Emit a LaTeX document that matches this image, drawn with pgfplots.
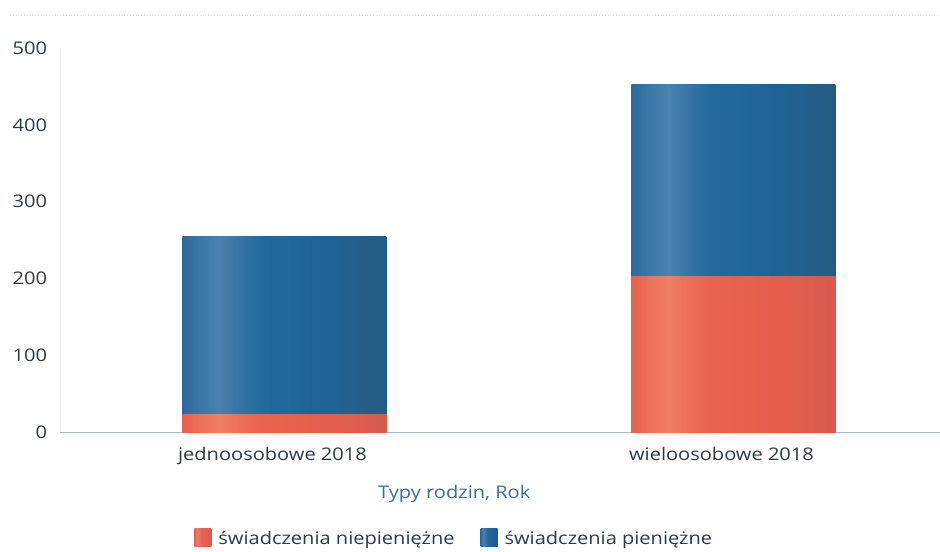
\documentclass[border=0pt]{standalone}
\usepackage{fontspec}
\setmainfont{Open Sans}[FakeStretch=1.15]
\usepackage{pgfplots}
\pgfplotsset{compat=1.18}
\definecolor{tickc}{HTML}{2F3B44}
\definecolor{labc}{HTML}{3D6CAA}
\definecolor{axc}{HTML}{A9BACB}
\definecolor{bA}{HTML}{2B6A9C}
\definecolor{bA2}{HTML}{3A76A6}
\definecolor{bB}{HTML}{4A82B0}
\definecolor{bB2}{HTML}{3574A5}
\definecolor{bC}{HTML}{23699C}
\definecolor{bD}{HTML}{1F6396}
\definecolor{bE}{HTML}{265C82}
\definecolor{rA}{HTML}{E8604C}
\definecolor{rA2}{HTML}{EC705A}
\definecolor{rB}{HTML}{F07F64}
\definecolor{rB2}{HTML}{EC6F58}
\definecolor{rC}{HTML}{E9634F}
\definecolor{rD}{HTML}{E55E4B}
\definecolor{rE}{HTML}{D65B4F}
\pgfdeclarehorizontalshading{bluebar}{100bp}{color(0bp)=(bA); color(25bp)=(bA); color(29bp)=(bA2); color(34bp)=(bB); color(39bp)=(bB2); color(45bp)=(bC); color(60bp)=(bD); color(75bp)=(bE); color(100bp)=(bE)}
\pgfdeclarehorizontalshading{redbar}{100bp}{color(0bp)=(rA); color(25bp)=(rA); color(29bp)=(rA2); color(34bp)=(rB); color(39bp)=(rB2); color(45bp)=(rC); color(60bp)=(rD); color(75bp)=(rE); color(100bp)=(rE)}
\begin{document}
\fontsize{17.5}{20}\selectfont
\begin{tikzpicture}
\useasboundingbox (-60bp,-120bp) rectangle (880bp,432bp);
\begin{axis}[
  scale only axis,
  width=880bp, height=384bp,
  xmin=-0.5, xmax=1.46,
  ymin=0, ymax=500,
  ybar, bar shift=0pt,
  bar width=204bp,
  xtick={0,1},
  xticklabels={jednoosobowe 2018, wieloosobowe 2018},
  ytick={0,100,200,300,400,500},
  major tick length=0pt,
  axis x line*=bottom,
  axis y line*=left,
  x axis line style={draw=axc, line width=0.8bp},
  y axis line style={draw=gray!15, line width=0.6bp},
  /pgf/number format/assume math mode=true,
  ticklabel style={font=\fontsize{17.5}{20}\selectfont, text=tickc},
  yticklabel style={xshift=-7bp},
  xticklabel style={yshift=-9bp, xshift=-12bp},
  xlabel={Typy rodzin, Rok},
  xlabel style={font=\fontsize{17.5}{20}\selectfont, text=labc, at={(axis description cs:0.448,-0.161)}, anchor=center},
  legend style={draw=none, fill=none, legend columns=-1, at={(0.448,-0.278)}, anchor=center,
    font=\fontsize{17.5}{20}\selectfont, text=tickc,
    /tikz/every odd column/.append style={column sep=5bp},
    /tikz/every even column/.append style={column sep=24bp}},
  legend image code/.code={\path[#1] (0bp,-8bp) rectangle (17bp,10bp);},
  clip=false,
]
% totals (niepieniężne + pieniężne): 23+231=254, 202+251=453
\addplot[draw=none, shading=bluebar, shade, forget plot] coordinates {(0,254)};
\addplot[draw=none, shading=bluebar, shade, forget plot] coordinates {(1,453)};
% świadczenia niepieniężne
\addplot[draw=none, shading=redbar, shade] coordinates {(0,23)};
\addlegendentry{świadczenia niepieniężne}
\addplot[draw=none, shading=redbar, shade, forget plot] coordinates {(1,202)};
\addlegendimage{draw=none, shading=bluebar, shade}
\addlegendentry{świadczenia pieniężne}
\end{axis}
\draw[gray!25, dotted, line width=0.8bp] (-50bp,417bp) -- (880bp,417bp);
\end{tikzpicture}
\end{document}
